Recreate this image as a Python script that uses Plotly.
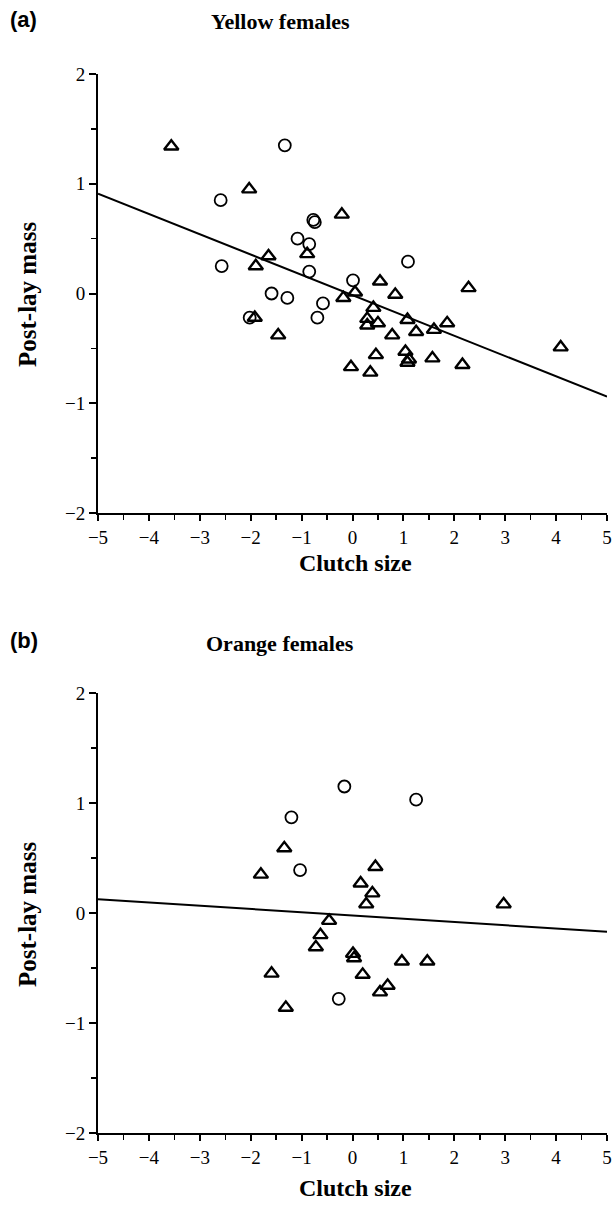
import plotly.graph_objects as go

# Panel (a): Yellow females
a_tri_x = [-3.56, -2.03, -1.90, -1.65, -1.92, -1.46, -0.89, -0.21, -0.18, 0.05, -0.03,
           0.29, 0.29, 0.35, 0.41, 0.46, 0.50, 0.54, 0.78, 0.84, 1.04, 1.08, 1.11, 1.08,
           1.25, 1.57, 1.60, 1.86, 2.16, 2.28, 4.09]
a_tri_y = [1.34, 0.95, 0.25, 0.34, -0.22, -0.38, 0.36, 0.72, -0.04, 0.01, -0.67,
           -0.23, -0.29, -0.72, -0.13, -0.56, -0.27, 0.11, -0.38, -0.01, -0.53, -0.24, -0.60, -0.63,
           -0.35, -0.59, -0.33, -0.27, -0.65, 0.05, -0.49]
a_cir_x = [-1.33, -2.59, -2.57, -1.08, -0.85, -0.85, -0.77, -0.74, -1.59, -1.28, -0.58,
           -0.69, -2.02, 0.01, 1.09]
a_cir_y = [1.35, 0.85, 0.25, 0.50, 0.45, 0.20, 0.67, 0.65, 0.00, -0.04, -0.09,
           -0.22, -0.22, 0.12, 0.29]
a_line_x = [-5, 5]
a_line_y = [0.91, -0.94]

# Panel (b): Orange females
b_tri_x = [-1.34, -1.80, -0.46, -0.63, -0.72, -1.59, -1.31, 0.45, 0.16, 0.39, 0.27,
           2.97, 0.01, 0.03, 0.97, 1.47, 0.20, 0.69, 0.54]
b_tri_y = [0.59, 0.35, -0.07, -0.20, -0.31, -0.55, -0.86, 0.42, 0.27, 0.18, 0.08,
           0.08, -0.37, -0.41, -0.44, -0.44, -0.56, -0.66, -0.72]
b_cir_x = [-0.16, -1.20, -1.03, -0.27, 1.25]
b_cir_y = [1.15, 0.87, 0.39, -0.78, 1.03]
b_line_x = [-5, 5]
b_line_y = [0.125, -0.17]

x_ticks = [-5, -4, -3, -2, -1, 0, 1, 2, 3, 4, 5]
y_ticks = [-2, -1, 0, 1, 2]

W, H = 616, 1211
fig = go.Figure()

def add_panel(ax, tx, ty, cx, cy, lx, ly):
    xa = 'x' if ax == 1 else 'x2'
    ya = 'y' if ax == 1 else 'y2'
    fig.add_trace(go.Scatter(x=lx, y=ly, mode='lines', line=dict(color='black', width=2),
                             xaxis=xa, yaxis=ya, showlegend=False, hoverinfo='skip',
                             cliponaxis=False))
    fig.add_trace(go.Scatter(x=cx, y=cy, mode='markers',
                             marker=dict(symbol='circle-open', size=12, color='black',
                                         line=dict(width=1.8, color='black')),
                             xaxis=xa, yaxis=ya, showlegend=False))
    fig.add_trace(go.Scatter(x=tx, y=ty, mode='markers',
                             marker=dict(symbol='triangle-up-open', size=12.5, color='black',
                                         line=dict(width=2.4, color='black')),
                             xaxis=xa, yaxis=ya, showlegend=False))

add_panel(1, a_tri_x, a_tri_y, a_cir_x, a_cir_y, a_line_x, a_line_y)
add_panel(2, b_tri_x, b_tri_y, b_cir_x, b_cir_y, b_line_x, b_line_y)

x_dom = [98 / W, 607 / W]
ya_dom = [1 - 513 / H, 1 - 74 / H]
yb_dom = [1 - 1133 / H, 1 - 693 / H]

tickfont = dict(family='Liberation Serif', size=19, color='black')

def xaxis_cfg(anchor):
    return dict(domain=x_dom, range=[-5, 5], anchor=anchor, tickvals=x_ticks,
                automargin=False, ticklabeloverflow='allow',
                showgrid=False, zeroline=False, showline=True, linecolor='black', linewidth=2,
                ticks='outside', ticklen=6, tickwidth=2, tickcolor='black',
                minor=dict(dtick=0.5, ticks='outside', ticklen=5, tickwidth=1.5, tickcolor='black'),
                tickfont=tickfont, fixedrange=True)

def yaxis_cfg(anchor, dom):
    return dict(domain=dom, range=[-2, 2], anchor=anchor, tickvals=y_ticks,
                automargin=False, ticklabeloverflow='allow',
                showgrid=False, zeroline=False, showline=True, linecolor='black', linewidth=2,
                ticks='outside', ticklen=7, tickwidth=2, tickcolor='black',
                minor=dict(dtick=0.5, ticks='outside', ticklen=5, tickwidth=1.5, tickcolor='black'),
                tickfont=tickfont, fixedrange=True)

fig.update_layout(
    template='none',
    width=W, height=H,
    margin=dict(l=0, r=0, t=0, b=0, autoexpand=False),
    paper_bgcolor='white', plot_bgcolor='white',
    xaxis=xaxis_cfg('y'), yaxis=yaxis_cfg('x', ya_dom),
    xaxis2=xaxis_cfg('y2'), yaxis2=yaxis_cfg('x2', yb_dom),
)

xtitle_f = dict(family='Liberation Serif', size=24, color='black')
ytitle_f = dict(family='Liberation Serif', size=25, color='black')
title_f = dict(family='Liberation Serif', size=22, color='black')
label_f = dict(family='Liberation Sans', size=22, color='black')

ann = []
def paper_y(py):
    return 1 - py / H

for lab, ttl, ty, xlab_y, ylab_y in [('(a)', 'Yellow females', 19, 563, 295),
                                      ('(b)', 'Orange females', 640, 1188, 915)]:
    ann.append(dict(text='<b>' + lab + '</b>', x=8 / W, y=paper_y(ty), xref='paper', yref='paper',
                    xanchor='left', yanchor='middle', showarrow=False, font=label_f))
    ann.append(dict(text='<b>' + ttl + '</b>', x=280 / W, y=paper_y(ty + 3), xref='paper', yref='paper',
                    xanchor='center', yanchor='middle', showarrow=False, font=title_f))
    ann.append(dict(text='<b>Clutch size</b>', x=355 / W, y=paper_y(xlab_y), xref='paper', yref='paper',
                    xanchor='center', yanchor='middle', showarrow=False, font=xtitle_f))
    ann.append(dict(text='<b>Post-lay mass</b>', x=27 / W, y=paper_y(ylab_y), xref='paper', yref='paper',
                    xanchor='center', yanchor='middle', showarrow=False, font=ytitle_f, textangle=-90))

fig.update_layout(annotations=ann)
fig.write_html('out.html', config={'displayModeBar': False, 'staticPlot': True},
               post_script="document.body.style.margin='0';document.body.style.overflow='hidden';")
